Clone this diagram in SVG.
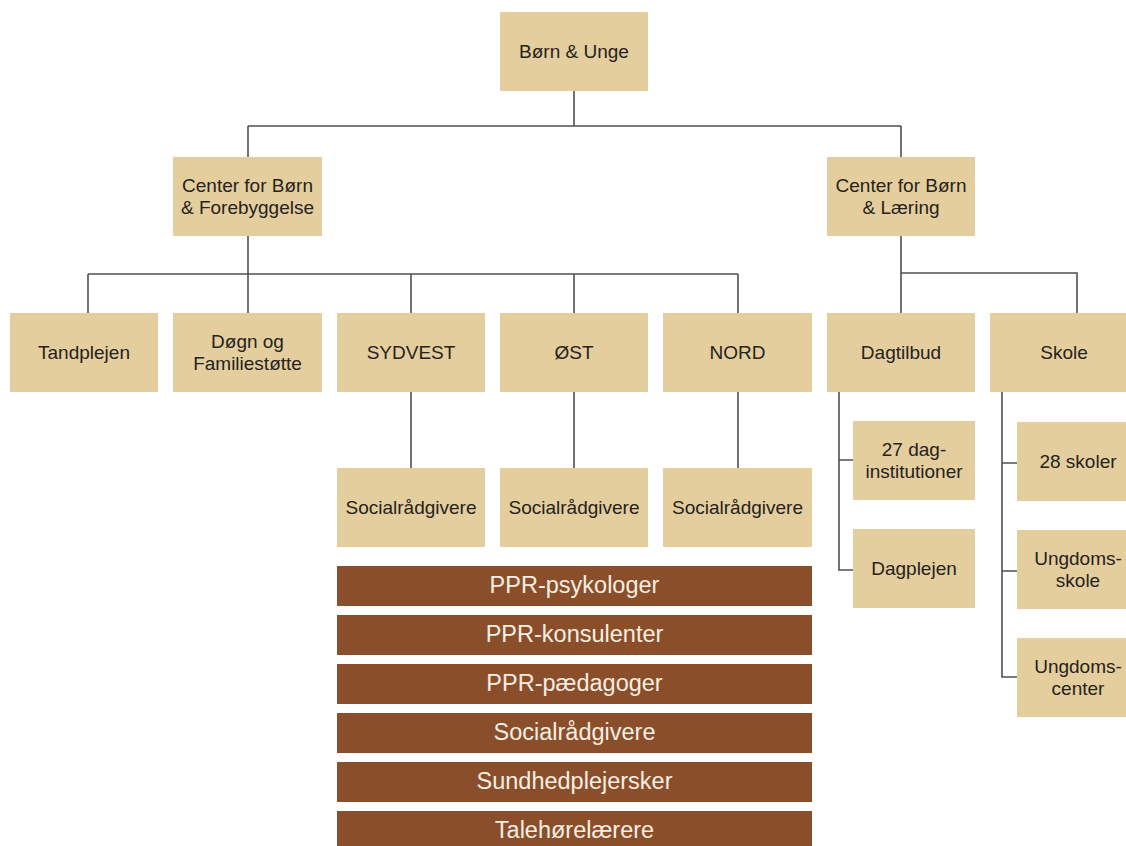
<svg xmlns="http://www.w3.org/2000/svg" width="1126" height="846" viewBox="0 0 1126 846">
<style>
.n{fill:#E4CE9E}
.b{fill:#8B4E2A}
.t{font-family:"Liberation Sans",Arial,sans-serif;font-size:19px;fill:#26221C;text-anchor:middle}
.w{font-family:"Liberation Sans",Arial,sans-serif;font-size:23.5px;fill:#F6EEE2;text-anchor:middle}
.c{fill:none;stroke:#505050;stroke-width:1.6}
</style>
<rect width="1126" height="846" fill="#FFFFFF"/>
<g id="connectors">
<path class="c" d="M574 91V126M248 126H901M248 126V157M901 126V157"/>
<path class="c" d="M248 236V274M88 274H738M88 274V313M248 274V313M411 274V313M574 274V313M738 274V313"/>
<path class="c" d="M901 236V313M901 273H1077V313"/>
<path class="c" d="M411 392V468M574 392V468M738 392V468"/>
<path class="c" d="M839 392V570H853M839 460H853"/>
<path class="c" d="M1002 392V677H1017M1002 463H1017M1002 571H1017"/>
</g>
<g id="n-top"><rect class="n" x="500" y="12" width="148" height="79"/><text class="t" x="574" y="58">Børn &amp; Unge</text></g>
<g id="n-cbf"><rect class="n" x="173" y="157" width="149" height="79"/><text class="t" x="247.5" y="192">Center for Børn</text><text class="t" x="247.5" y="214">&amp; Forebyggelse</text></g>
<g id="n-cbl"><rect class="n" x="827" y="157" width="148" height="79"/><text class="t" x="901" y="192">Center for Børn</text><text class="t" x="901" y="214">&amp; Læring</text></g>
<g id="n-tand"><rect class="n" x="10" y="313" width="148" height="79"/><text class="t" x="84" y="359">Tandplejen</text></g>
<g id="n-dogn"><rect class="n" x="173" y="313" width="149" height="79"/><text class="t" x="247.5" y="348">Døgn og</text><text class="t" x="247.5" y="370">Familiestøtte</text></g>
<g id="n-sydvest"><rect class="n" x="337" y="313" width="148" height="79"/><text class="t" x="411" y="359">SYDVEST</text></g>
<g id="n-ost"><rect class="n" x="500" y="313" width="148" height="79"/><text class="t" x="574" y="359">ØST</text></g>
<g id="n-nord"><rect class="n" x="663" y="313" width="149" height="79"/><text class="t" x="737.5" y="359">NORD</text></g>
<g id="n-dagtilbud"><rect class="n" x="827" y="313" width="148" height="79"/><text class="t" x="901" y="359">Dagtilbud</text></g>
<g id="n-skole"><rect class="n" x="990" y="313" width="148" height="79"/><text class="t" x="1064" y="359">Skole</text></g>
<g id="n-soc1"><rect class="n" x="337" y="468" width="148" height="79"/><text class="t" x="411" y="514">Socialrådgivere</text></g>
<g id="n-soc2"><rect class="n" x="500" y="468" width="148" height="79"/><text class="t" x="574" y="514">Socialrådgivere</text></g>
<g id="n-soc3"><rect class="n" x="663" y="468" width="149" height="79"/><text class="t" x="737.5" y="514">Socialrådgivere</text></g>
<g id="n-27dag"><rect class="n" x="853" y="421" width="122" height="79"/><text class="t" x="914" y="456">27 dag-</text><text class="t" x="914" y="478">institutioner</text></g>
<g id="n-dagplejen"><rect class="n" x="853" y="529" width="122" height="79"/><text class="t" x="914" y="575">Dagplejen</text></g>
<g id="n-28skoler"><rect class="n" x="1017" y="422" width="122" height="79"/><text class="t" x="1078" y="468">28 skoler</text></g>
<g id="n-ungskole"><rect class="n" x="1017" y="530" width="122" height="79"/><text class="t" x="1078" y="565">Ungdoms-</text><text class="t" x="1078" y="587">skole</text></g>
<g id="n-ungcenter"><rect class="n" x="1017" y="638" width="122" height="79"/><text class="t" x="1078" y="673">Ungdoms-</text><text class="t" x="1078" y="695">center</text></g>
<g id="n-ppr-psyk"><rect class="b" x="337" y="566" width="475" height="40"/><text class="w" x="574.5" y="593">PPR-psykologer</text></g>
<g id="n-ppr-kons"><rect class="b" x="337" y="615" width="475" height="40"/><text class="w" x="574.5" y="642">PPR-konsulenter</text></g>
<g id="n-ppr-paed"><rect class="b" x="337" y="664" width="475" height="40"/><text class="w" x="574.5" y="691">PPR-pædagoger</text></g>
<g id="n-socialr"><rect class="b" x="337" y="713" width="475" height="40"/><text class="w" x="574.5" y="740">Socialrådgivere</text></g>
<g id="n-sundhed"><rect class="b" x="337" y="762" width="475" height="40"/><text class="w" x="574.5" y="789">Sundhedplejersker</text></g>
<g id="n-tale"><rect class="b" x="337" y="811" width="475" height="40"/><text class="w" x="574.5" y="838">Talehørelærere</text></g>
</svg>
